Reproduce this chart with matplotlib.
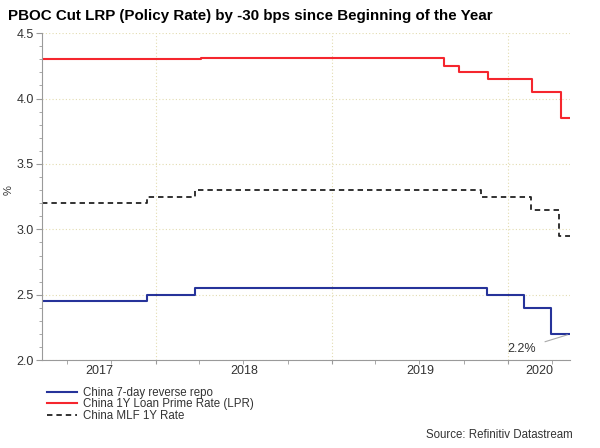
import matplotlib
matplotlib.use("Agg")
import matplotlib.pyplot as plt
import matplotlib.dates as mdates
import numpy as np
from datetime import datetime

plt.rcParams['font.family'] = ['Liberation Sans', 'DejaVu Sans']

# change points of each series (value holds until next date)
repo_dates = ["2017-05-10", "2017-12-14", "2018-03-22", "2019-11-18", "2020-02-03", "2020-03-30", "2020-05-08"]
repo_vals = [2.45, 2.50, 2.55, 2.50, 2.40, 2.20, 2.20]

lpr_dates = ["2017-05-10", "2018-04-05", "2019-08-20", "2019-09-20", "2019-11-20", "2020-02-20", "2020-04-20", "2020-05-08"]
lpr_vals = [4.30, 4.31, 4.25, 4.20, 4.15, 4.05, 3.85, 3.85]

mlf_dates = ["2017-05-10", "2017-12-14", "2018-03-22", "2019-11-05", "2020-02-17", "2020-04-15", "2020-05-08"]
mlf_vals = [3.20, 3.25, 3.30, 3.25, 3.15, 2.95, 2.95]

years = [2017, 2018, 2019, 2020]


def to_dt(lst):
    return [datetime.strptime(d, "%Y-%m-%d") for d in lst]


fig = plt.figure(figsize=(6, 4.48), dpi=100)
ax = fig.add_axes([0.07, 0.196, 0.88, 0.73])

ax.plot(to_dt(repo_dates), repo_vals, drawstyle='steps-post', color='#26339a', lw=1.5,
        label='China 7-day reverse repo')
ax.plot(to_dt(lpr_dates), lpr_vals, drawstyle='steps-post', color='#f5262e', lw=1.5,
        label='China 1Y Loan Prime Rate (LPR)')
ax.plot(to_dt(mlf_dates), mlf_vals, drawstyle='steps-post', color='#222222', lw=1.3,
        ls=(0, (3, 2.2)), label='China MLF 1Y Rate')

x0 = datetime(2017, 5, 10)
x1 = datetime(2020, 5, 8)
ax.set_xlim(x0, x1)
ax.set_ylim(2.0, 4.5)

# axes styling
for s in ['top', 'right']:
    ax.spines[s].set_visible(False)
for s in ['left', 'bottom']:
    ax.spines[s].set_color('#9a9a9a')
    ax.spines[s].set_linewidth(0.8)

ax.set_yticks(np.arange(2.0, 4.51, 0.5))
ax.set_yticks(np.arange(2.0, 4.51, 0.1), minor=True)
ax.yaxis.set_major_formatter(matplotlib.ticker.FormatStrFormatter('%.1f'))
ax.tick_params(axis='y', which='both', direction='out', color='#9a9a9a', labelsize=9,
               labelcolor='#333333', pad=2)
ax.tick_params(axis='y', which='major', length=4)
ax.tick_params(axis='y', which='minor', length=2.5)

ax.xaxis.set_major_locator(mdates.YearLocator())
ax.xaxis.set_minor_locator(mdates.MonthLocator(bymonth=[1, 4, 7, 10]))
ax.xaxis.set_major_formatter(matplotlib.ticker.NullFormatter())
ax.tick_params(axis='x', which='both', direction='out', color='#9a9a9a', length=3)

ax.grid(True, which='major', axis='both', color='#e3dcb0', ls=(0, (1, 2)), lw=0.8)

# year labels centred in their visible span
for y in years:
    a = max(datetime(y, 1, 1), x0)
    b = min(datetime(y + 1, 1, 1), x1)
    mid = mdates.date2num(a) + (mdates.date2num(b) - mdates.date2num(a)) / 2
    ax.text(mid, -0.016, str(y), transform=ax.get_xaxis_transform(), ha='center', va='top',
            fontsize=9, color='#333333')

fig.text(0.014, 0.575, '%', fontsize=8, color='#333333', rotation=90, ha='center', va='center')

# annotation for the last repo value
ax.annotate('2.2%', xy=(x1, 2.2), xytext=(datetime(2020, 1, 28), 2.085), fontsize=9,
            color='#333333', ha='center', va='center',
            arrowprops=dict(arrowstyle='-', color='#aaaaaa', lw=0.8, shrinkA=5, shrinkB=2))

fig.text(0.013, 0.965, 'PBOC Cut LRP (Policy Rate) by -30 bps since Beginning of the Year',
         fontsize=10.9, fontweight='bold', va='center', ha='left')

ax.legend(loc='upper left', bbox_to_anchor=(0.005, -0.075), frameon=False, fontsize=8.3,
          handlelength=2.6, labelspacing=-0.05, handletextpad=0.5, borderaxespad=0, borderpad=0.2,
          labelcolor='#333333')

fig.text(0.955, 0.03, 'Source: Refinitiv Datastream', fontsize=8.3, ha='right', va='center',
         color='#333333')

fig.savefig('out.png', dpi=100)
